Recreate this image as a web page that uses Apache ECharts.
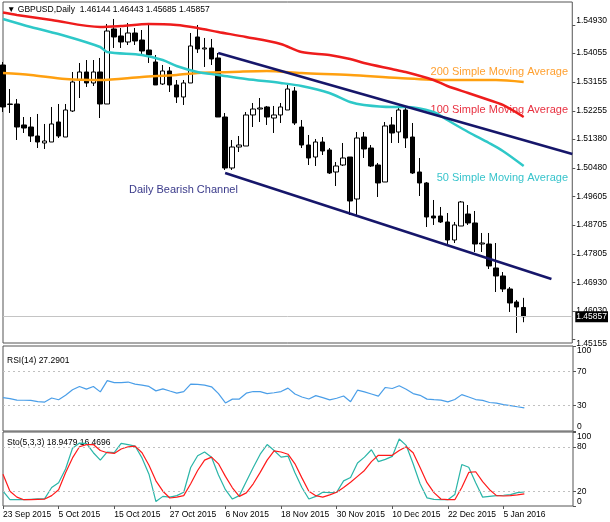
<!DOCTYPE html>
<html>
<head>
<meta charset="utf-8">
<script src="https://cdn.jsdelivr.net/npm/echarts@6/dist/echarts.min.js"></script>
<style>
  html, body { margin: 0; padding: 0; background: #fff; }
  #chart { width: 610px; height: 522px; }
</style>
</head>
<body>
<div id="chart"></div>
<script>
// bar slots on the time axis (76 trading days + empty space on the right)
const slotCount = 83;
const tickStep = 8;
const tickLabels = ['23 Sep 2015', '5 Oct 2015', '15 Oct 2015', '27 Oct 2015', '6 Nov 2015',
    '18 Nov 2015', '30 Nov 2015', '10 Dec 2015', '22 Dec 2015', '5 Jan 2016'];

const priceTicks = [1.54930, 1.54055, 1.53155, 1.52255, 1.51380, 1.50480, 1.49605,
    1.48705, 1.47805, 1.46930, 1.46030, 1.45155];

// [open, close, low, high]
const candles = [
    [1.53686, 1.52380, 1.52224, 1.53779],
    [1.52458, 1.52473, 1.52193, 1.52939],
    [1.52473, 1.51757, 1.51353, 1.52628],
    [1.51820, 1.51726, 1.51571, 1.52068],
    [1.51757, 1.51477, 1.51291, 1.52068],
    [1.51477, 1.51291, 1.51104, 1.52162],
    [1.51260, 1.51322, 1.51073, 1.51851],
    [1.51291, 1.51851, 1.51291, 1.52380],
    [1.51913, 1.51477, 1.51415, 1.52473],
    [1.51446, 1.52286, 1.51446, 1.52473],
    [1.52255, 1.53157, 1.52224, 1.53468],
    [1.53219, 1.53468, 1.52659, 1.53748],
    [1.53468, 1.53126, 1.53002, 1.53841],
    [1.53126, 1.53468, 1.53033, 1.53841],
    [1.53468, 1.52473, 1.52037, 1.53904],
    [1.52473, 1.54743, 1.52473, 1.54961],
    [1.54806, 1.54557, 1.54215, 1.55117],
    [1.54588, 1.54401, 1.54215, 1.54837],
    [1.54401, 1.54681, 1.54308, 1.54992],
    [1.54681, 1.54432, 1.54308, 1.54837],
    [1.54463, 1.54121, 1.54028, 1.54774],
    [1.54152, 1.53997, 1.53748, 1.54992],
    [1.53779, 1.53064, 1.53064, 1.53997],
    [1.53095, 1.53499, 1.53064, 1.53686],
    [1.53499, 1.53064, 1.52846, 1.53624],
    [1.53064, 1.52691, 1.52504, 1.53219],
    [1.52691, 1.53126, 1.52442, 1.53219],
    [1.53126, 1.54277, 1.53126, 1.54681],
    [1.54557, 1.54184, 1.54059, 1.54930],
    [1.54184, 1.54215, 1.53624, 1.54526],
    [1.54215, 1.53873, 1.53686, 1.54495],
    [1.53904, 1.52068, 1.52068, 1.54059],
    [1.52068, 1.50482, 1.50420, 1.52193],
    [1.50482, 1.51135, 1.50420, 1.51353],
    [1.51135, 1.51197, 1.50980, 1.51477],
    [1.51166, 1.52131, 1.51166, 1.52224],
    [1.52131, 1.52317, 1.51757, 1.52504],
    [1.52317, 1.52348, 1.51913, 1.52659],
    [1.52380, 1.52068, 1.51820, 1.52411],
    [1.52037, 1.52131, 1.51571, 1.52411],
    [1.52131, 1.52380, 1.51882, 1.52504],
    [1.52286, 1.52939, 1.52286, 1.53126],
    [1.52877, 1.51882, 1.51820, 1.53002],
    [1.51757, 1.51197, 1.51104, 1.51975],
    [1.51197, 1.50793, 1.50575, 1.51509],
    [1.50824, 1.51291, 1.50544, 1.51384],
    [1.51291, 1.51011, 1.50886, 1.51446],
    [1.51042, 1.50327, 1.50296, 1.51104],
    [1.50358, 1.50544, 1.49922, 1.50669],
    [1.50575, 1.50793, 1.50544, 1.51260],
    [1.50824, 1.49456, 1.49020, 1.50824],
    [1.49518, 1.51415, 1.49020, 1.51602],
    [1.51446, 1.51073, 1.50793, 1.51602],
    [1.51104, 1.50544, 1.50513, 1.51197],
    [1.50575, 1.50016, 1.49580, 1.50638],
    [1.50047, 1.51789, 1.50047, 1.51913],
    [1.51820, 1.51571, 1.51260, 1.52068],
    [1.51602, 1.52286, 1.51260, 1.52348],
    [1.52286, 1.51415, 1.51104, 1.52348],
    [1.51446, 1.50327, 1.50296, 1.51882],
    [1.50358, 1.50016, 1.49611, 1.50793],
    [1.50016, 1.48958, 1.48647, 1.50047],
    [1.48989, 1.48927, 1.48710, 1.49487],
    [1.48989, 1.48803, 1.48772, 1.49269],
    [1.48803, 1.48243, 1.48087, 1.49082],
    [1.48243, 1.48710, 1.48149, 1.48803],
    [1.48678, 1.49425, 1.48678, 1.49456],
    [1.49051, 1.48772, 1.48710, 1.49331],
    [1.48772, 1.48118, 1.47869, 1.49145],
    [1.48118, 1.48149, 1.47869, 1.48461],
    [1.48118, 1.47434, 1.47341, 1.48461],
    [1.47372, 1.47123, 1.46625, 1.48149],
    [1.47123, 1.46719, 1.46625, 1.47247],
    [1.46719, 1.46284, 1.46004, 1.46781],
    [1.46315, 1.46160, 1.45351, 1.46377],
    [1.46144, 1.45857, 1.45685, 1.46443]
];

// moving averages: [bar index, price]
const sma50 = [[0, 1.55117], [4, 1.54868], [9, 1.54588], [14, 1.54246], [15, 1.54090], [20, 1.53997],
    [23, 1.53841], [25, 1.53655], [28, 1.53468], [31, 1.53375], [35, 1.53250], [40, 1.53126],
    [43, 1.53033], [47, 1.52815], [50, 1.52535], [52, 1.52442], [56, 1.52380], [58, 1.52380],
    [62, 1.52224], [64, 1.51975], [67, 1.51602], [70, 1.51260], [72, 1.51011], [75, 1.50544]];
const sma100 = [[0, 1.55319], [2, 1.55241], [7, 1.55086], [14, 1.54868], [17, 1.54899], [21, 1.54961],
    [25, 1.54930], [28, 1.54837], [31, 1.54712], [35, 1.54557], [40, 1.54339], [43, 1.54090],
    [47, 1.53997], [50, 1.53872], [52, 1.53748], [56, 1.53561], [58, 1.53468], [62, 1.53219],
    [64, 1.53033], [67, 1.52815], [70, 1.52597], [72, 1.52442], [75, 1.52068]];
const sma200 = [[0, 1.53437], [4, 1.53375], [9, 1.53250], [14, 1.53219], [20, 1.53313], [25, 1.53375],
    [28, 1.53437], [33, 1.53468], [38, 1.53499], [43, 1.53437], [50, 1.53375], [57, 1.53281],
    [64, 1.53219], [71, 1.53219], [75, 1.53157]];

// bearish channel
const channelTop = [[31, 1.54059], [82, 1.50918]];
const channelBottom = [[32, 1.50327], [79, 1.47030]];

const rsi = [39.2, 38, 36.4, 36.2, 36, 34.5, 34, 38.8, 36.8, 42, 48.5, 52.4, 49.2, 52.4, 46, 59.2,
    57, 57, 57.6, 55.2, 54, 52.4, 47.2, 49.6, 47, 44.5, 46.4, 55.2, 54.8, 54, 52, 44, 33, 37.5,
    37.6, 44.5, 46.5, 46.4, 44, 45, 46.4, 50.4, 43.6, 40, 37.6, 41.6, 39.2, 36.6, 38.5, 41.2,
    34.5, 48, 46, 43.5, 41, 51.2, 50, 53.2, 49.2, 44, 42, 37.5, 36.8, 36.4, 34.2, 37, 42.8, 40,
    37, 36, 33.5, 32.8, 31, 29.8, 28.5, 27.2901];
const rsiLevels = [30, 70];

const stoMain = [20, 8.5, 8.5, 8.5, 9, 9.5, 10, 25, 31.5, 50, 78, 85, 84.6, 72, 62, 73, 72, 84.6,
    83, 81, 65, 43, 6, 13, 12, 14, 18.6, 52, 68, 73, 66, 42, 22, 9.4, 14, 33, 52, 70, 83, 75, 66,
    67.5, 45, 25, 9.4, 13, 18.6, 18, 18.6, 34, 38.5, 58, 66, 76, 60, 63, 67, 90.6, 82, 57, 30, 11,
    9, 8.5, 8.5, 15.4, 56, 52.3, 31.5, 12, 13, 14, 14.5, 15.4, 18, 18.9479];
const stoSignal = [43, 20, 12, 8.5, 8.5, 9, 9.4, 14, 22, 45, 65, 80, 83, 83, 75, 72, 71, 77, 80, 81,
    72, 55, 34, 20, 10.8, 12, 14, 30, 48, 62, 66, 57, 40, 24.6, 13, 17.7, 30, 45.4, 62, 74.5, 73,
    70, 57, 38, 20, 14, 12, 15, 18.6, 25, 32, 40, 48, 60, 68.5, 68.5, 68.5, 75, 80, 72, 52, 31.5,
    18, 9.4, 8.5, 8.5, 25, 45.4, 46.3, 33, 22, 14, 13.5, 14, 15, 16.4696];
const stoLevels = [20, 80];

const uiFamily = '"Liberation Sans", Arial, sans-serif';
const smallFont = '8.5px ' + uiFamily;
const noteFont = '11px ' + uiFamily;

const slots = Array.from({ length: slotCount }, (_, i) => i);
const last = candles[candles.length - 1];

const makeXAxis = (gridIndex, withLabels) => ({
    type: 'category',
    gridIndex,
    data: slots,
    boundaryGap: false,
    axisLine: { show: false },
    axisTick: {
        show: withLabels,
        length: 3,
        lineStyle: { color: '#555' },
        interval: (i) => i % tickStep === 0 && i / tickStep < tickLabels.length
    },
    axisLabel: {
        show: withLabels,
        interval: (i) => i % tickStep === 0 && i / tickStep < tickLabels.length,
        formatter: (v, i) => tickLabels[i / tickStep] || '',
        align: 'left',
        margin: 4,
        fontSize: 8.5,
        fontFamily: uiFamily,
        color: '#000'
    },
    splitLine: { show: false }
});

const makeYAxis = (gridIndex, min, max, ticks, fmt) => ({
    type: 'value',
    gridIndex,
    position: 'right',
    min, max,
    axisLine: { show: false },
    axisTick: { show: true, customValues: ticks, length: 3, lineStyle: { color: '#555' } },
    axisLabel: {
        customValues: ticks,
        formatter: fmt,
        margin: 4,
        fontSize: 8.5,
        fontFamily: uiFamily,
        color: '#000',
        verticalAlignMaxLabel: 'top',
        verticalAlignMinLabel: 'bottom'
    },
    splitLine: { show: false }
});

const levelLines = (levels) => ({
    silent: true,
    symbol: 'none',
    label: { show: false },
    lineStyle: { color: '#c0c0c0', type: [2, 3], width: 1 },
    data: levels.map(v => ({ yAxis: v }))
});

const maLine = (data, color) => ({
    type: 'line',
    data,
    showSymbol: false,
    smooth: 0.3,
    lineStyle: { color, width: 2.5 },
    z: 4,
    silent: true
});

const chart = echarts.init(document.getElementById('chart'));

chart.setOption({
    animation: false,
    backgroundColor: '#fff',
    grid: [
        { left: 3, right: 37, top: 2, height: 341, show: true, borderColor: '#555', borderWidth: 1 },
        { left: 3, right: 37, top: 346, height: 85, show: true, borderColor: '#555', borderWidth: 1 },
        { left: 3, right: 37, top: 432, height: 74, show: true, borderColor: '#555', borderWidth: 1 }
    ],
    xAxis: [makeXAxis(0, false), makeXAxis(1, false), makeXAxis(2, true)],
    yAxis: [
        makeYAxis(0, 1.45039, 1.55645, priceTicks, v => v.toFixed(5)),
        makeYAxis(1, 0, 100, [0, 30, 70, 100], v => String(v)),
        makeYAxis(2, 0, 100, [0, 20, 80, 100], v => String(v))
    ],
    series: [
        {
            type: 'candlestick',
            data: candles,
            barWidth: 5,
            clip: true,
            itemStyle: {
                color: '#fff', color0: '#000',
                borderColor: '#000', borderColor0: '#000', borderWidth: 1
            },
            markLine: {
                silent: true,
                symbol: 'none',
                precision: 5,
                z: 10,
                lineStyle: { color: '#c4c4c4', type: 'solid', width: 1 },
                label: {
                    show: true,
                    position: 'end',
                    distance: 3,
                    formatter: () => last[1].toFixed(5),
                    backgroundColor: '#000',
                    color: '#fff',
                    padding: [1, 1],
                    fontSize: 8.5,
                    fontFamily: uiFamily
                },
                data: [{ yAxis: last[1] }]
            }
        },
        maLine(sma200, '#ffa010'),
        maLine(sma100, '#ee1c1c'),
        maLine(sma50, '#2ec8c8'),
        {
            type: 'line', data: channelTop, showSymbol: false, silent: true, z: 5,
            lineStyle: { color: '#16166a', width: 2.5 }
        },
        {
            type: 'line', data: channelBottom, showSymbol: false, silent: true, z: 5,
            lineStyle: { color: '#16166a', width: 2.5 }
        },
        {
            type: 'line', xAxisIndex: 1, yAxisIndex: 1, data: rsi, showSymbol: false, silent: true,
            lineStyle: { color: '#4a9ee8', width: 1.2 },
            markLine: levelLines(rsiLevels)
        },
        {
            type: 'line', xAxisIndex: 2, yAxisIndex: 2, data: stoMain, showSymbol: false, silent: true,
            lineStyle: { color: '#2ab5a8', width: 1.2 },
            markLine: levelLines(stoLevels)
        },
        {
            type: 'line', xAxisIndex: 2, yAxisIndex: 2, data: stoSignal, showSymbol: false, silent: true,
            lineStyle: { color: '#ff1a1a', width: 1.2 }
        }
    ],
    graphic: [
        {
            type: 'text', left: 7, top: 5, silent: true,
            style: {
                text: '▼ GBPUSD,Daily  ' + [last[0], last[3], last[2], last[1]].map(v => v.toFixed(5)).join(' '),
                font: smallFont, fill: '#000'
            }
        },
        {
            type: 'text', left: 7, top: 356, silent: true,
            style: { text: 'RSI(14) ' + rsi[rsi.length - 1].toFixed(4), font: smallFont, fill: '#000' }
        },
        {
            type: 'text', left: 7, top: 438, silent: true,
            style: {
                text: 'Sto(5,3,3) ' + stoMain[stoMain.length - 1].toFixed(4) + ' ' +
                    stoSignal[stoSignal.length - 1].toFixed(4),
                font: smallFont, fill: '#000'
            }
        },
        {
            type: 'text', right: 42, top: 66, silent: true,
            style: { text: '200 Simple Moving Average', font: noteFont, fill: '#ffa030' }
        },
        {
            type: 'text', right: 42, top: 104, silent: true,
            style: { text: '100 Simple Moving Average', font: noteFont, fill: '#e83040' }
        },
        {
            type: 'text', right: 42, top: 172, silent: true,
            style: { text: '50 Simple Moving Average', font: noteFont, fill: '#38c4cc' }
        },
        {
            type: 'text', left: 129, top: 184, silent: true,
            style: { text: 'Daily Bearish Channel', font: noteFont, fill: '#3a3a8a' }
        }
    ]
});
</script>
</body>
</html>
